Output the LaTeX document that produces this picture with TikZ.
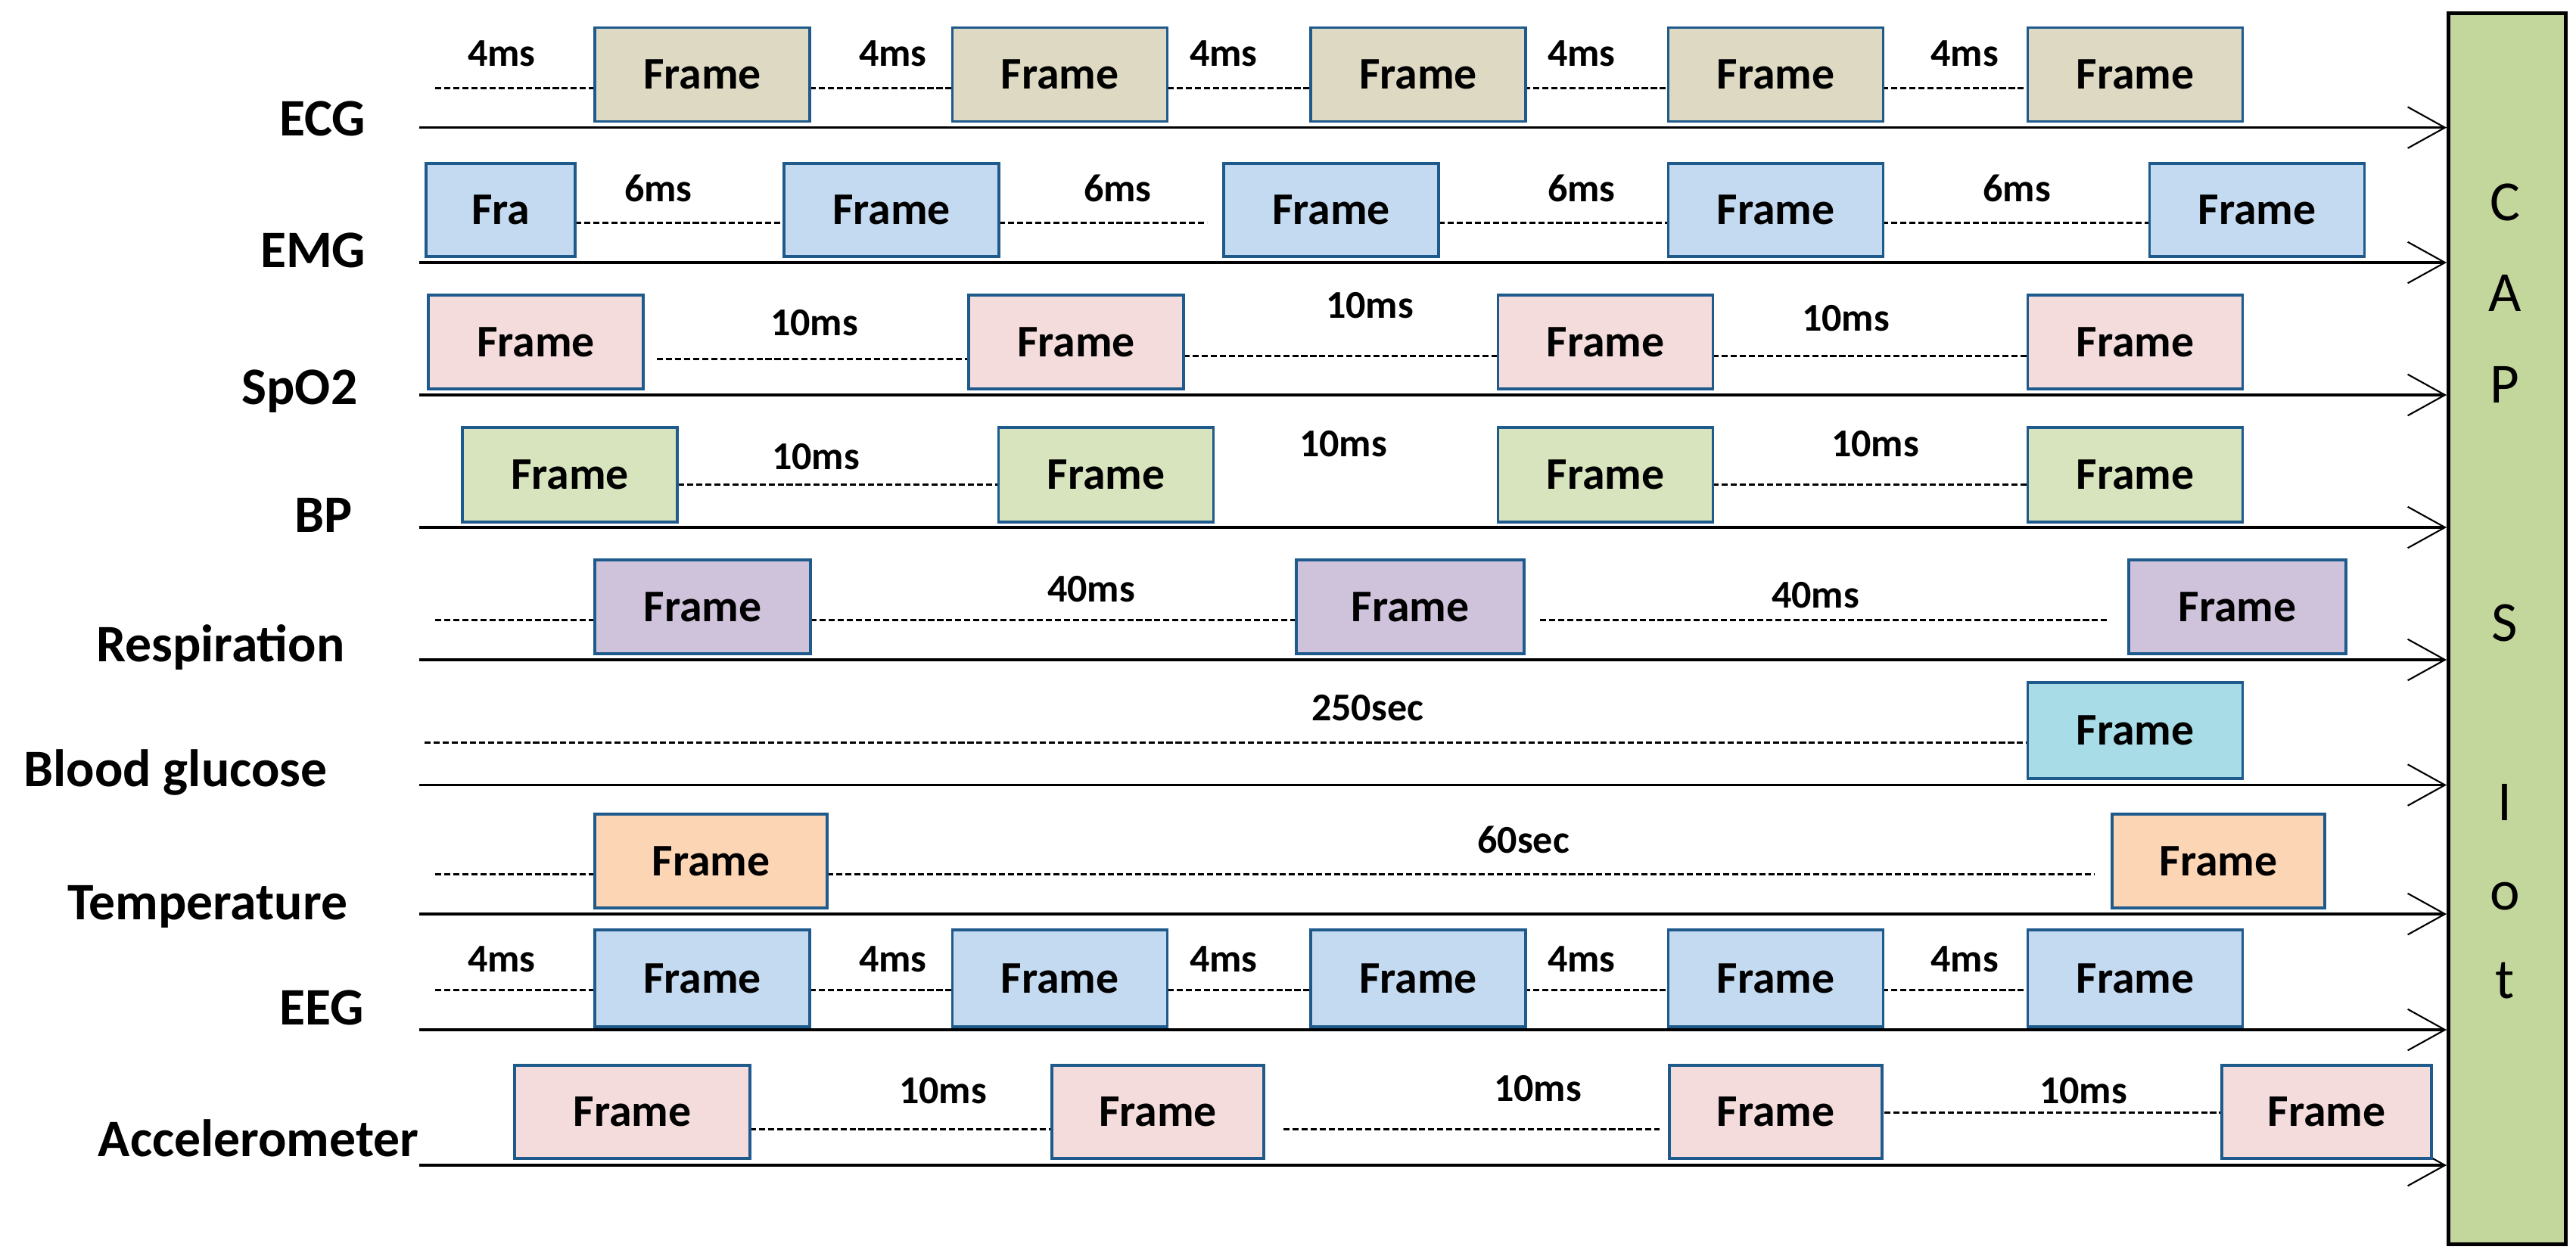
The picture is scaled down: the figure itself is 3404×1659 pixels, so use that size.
\documentclass[tikz,border=0pt]{standalone}
\usepackage{fontspec}
\setmainfont{Carlito}
\usetikzlibrary{arrows.meta}
\definecolor{framec}{HTML}{1F5A8C}
\definecolor{capc}{HTML}{C3D69B}
\definecolor{ecgc}{HTML}{DDD9C3}
\definecolor{emgc}{HTML}{C4DAF1}
\definecolor{spoc}{HTML}{F4DCDC}
\definecolor{bpc}{HTML}{D7E4BD}
\definecolor{respc}{HTML}{CFC3DC}
\definecolor{bgc}{HTML}{A8DDE8}
\definecolor{tempc}{HTML}{FCD5B5}
\begin{document}
\begin{tikzpicture}[x=0.01cm, y=-0.01cm,
    frame/.style={draw=framec, line width=1pt, minimum width=2.84cm, minimum height=1.24cm, inner sep=0pt, font=\fontsize{17}{20}\selectfont\bfseries},
    gap/.style={line width=0.85pt, dash pattern=on 2.3pt off 1.1pt},
    axis/.style={line width=1pt, -{Straight Barb[length=14pt,width=15.5pt,line width=0.6pt]}},
    dur/.style={anchor=base, inner sep=0pt, font=\fontsize{14.8}{17}\selectfont\bfseries},
    sig/.style={anchor=base east, inner sep=0pt, font=\fontsize{19.8}{23}\selectfont\bfseries},
    letter/.style={anchor=base, inner sep=0pt, font=\fontsize{21.3}{25}\selectfont}]
    \useasboundingbox (0,0) rectangle (3404,1659);
    % CAPS IoT bar
    \node[draw, line width=1.3pt, fill=capc, minimum width=1.55cm, minimum height=16.26cm, inner sep=0pt, anchor=north west] (cap) at (3233,15) {};
    \foreach \c/\y [count=\i] in {C/291,A/411,P/532,S/847,I/1084,o/1202,t/1319}
    \node[letter] (l\i) at (3310,\y) {\c};
    % signal names and time axes
    \foreach \s/\t/\x/\y/\b in {ecg/ECG/484/168.6/179, emg/EMG/484/347/353, spo/SpO2/473/522/534, bp/BP/466/697/703, resp/Respiration/456/872/874, bg/Blood glucose/433/1037.5/1039, temp/Temperature/460/1208/1215, eeg/EEG/481/1361/1354, acc/Accelerometer/554/1540/1528} {
    \coordinate (\s) at (554,\y);
    \node[sig] (\s lab) at (\x,\b) {\t};
    \draw[axis] (\s) -- (\s -| cap.west);
    }
    % gaps between frames
    \foreach \a/\b/\y in {575/786/116, 1070/1258/116, 1543/1734/116, 2014/2206/116, 2487/2679/116,
    760/1031/294.6, 1320/1595/294.6, 1901/2206/294.6, 2487/2840/294.6,
    868/1280/474, 1564/1980/470, 2263/2679/470,
    896/1319/640, 2263/2679/640,
    575/786/819, 1071/1713/819, 2035/2785/819,
    561/2679/981,
    575/786/1155, 1093/2768/1155,
    575/786/1308.6, 1070/1258/1308.6, 1543/1734/1308.6, 2014/2206/1308.6, 2487/2679/1308.6,
    991/1390/1492, 1696/2193/1492, 2490/2936/1470}
    \draw[gap] (\a,\y) -- (\b,\y);
    % ECG and EEG
    \foreach \x [count=\i] in {928,1400.5,1874,2346.5,2821.5} {
    \node[frame, fill=ecgc] (ecg\i) at (\x,98.5) {Frame};
    \node[frame, fill=emgc, minimum height=1.28cm] (eeg\i) at (\x,1293) {Frame};
    }
    \foreach \x [count=\i] in {663,1180,1617,2090,2596} {
    \node[dur] (ecgt\i) at (\x,87) {4ms};
    \node[dur] (eegt\i) at (\x,1284) {4ms};
    }
    % EMG
    \node[frame, fill=emgc, minimum width=1.97cm, minimum height=1.23cm] (emg1) at (661.5,277.5) {Fra};
    \foreach \x [count=\i from 2] in {1178,1759,2346.5,2982.5}
    \node[frame, fill=emgc, minimum height=1.23cm] (emg\i) at (\x,277.5) {Frame};
    \foreach \x [count=\i] in {870,1477,2090,2665}
    \node[dur] (emgt\i) at (\x,266) {6ms};
    % SpO2
    \foreach \x [count=\i] in {708,1422,2121.5,2821.5}
    \node[frame, fill=spoc] (spo\i) at (\x,452) {Frame};
    \foreach \x/\b [count=\i] in {1076/443,1810/420,2439/437}
    \node[dur] (spot\i) at (\x,\b) {10ms};
    % BP
    \foreach \x [count=\i] in {753,1461.5,2121.5,2821.5}
    \node[frame, fill=bpc, minimum height=1.25cm] (bp\i) at (\x,627.5) {Frame};
    \foreach \x/\b [count=\i] in {1078/620,1775/603,2478/603}
    \node[dur] (bpt\i) at (\x,\b) {10ms};
    % Respiration
    \foreach \x/\w [count=\i] in {928.5/2.85,1863.5/3.01,2956.5/2.87}
    \node[frame, fill=respc, minimum width=\w cm] (resp\i) at (\x,802) {Frame};
    \foreach \x/\b [count=\i] in {1442/795,2399/803}
    \node[dur] (respt\i) at (\x,\b) {40ms};
    % Blood glucose
    \node[frame, fill=bgc, minimum height=1.27cm] (bg1) at (2821.5,965.5) {Frame};
    \node[dur] (bgt1) at (1807,952) {250sec};
    % Temperature
    \foreach \x/\w [count=\i] in {939.5/3.07,2931.5/2.81}
    \node[frame, fill=tempc, minimum width=\w cm] (temp\i) at (\x,1138) {Frame};
    \node[dur] (tempt1) at (2013,1127) {60sec};
    % Accelerometer
    \foreach \x/\w [count=\i] in {835.5/3.11,1530/2.80,2346.5/2.81,3074.5/2.77}
    \node[frame, fill=spoc, minimum width=\w cm, minimum height=1.23cm] (acc\i) at (\x,1469.5) {Frame};
    \foreach \x/\b [count=\i] in {1246/1458,2032/1455,2753/1458}
    \node[dur] (acct\i) at (\x,\b) {10ms};
\end{tikzpicture}
\end{document}
